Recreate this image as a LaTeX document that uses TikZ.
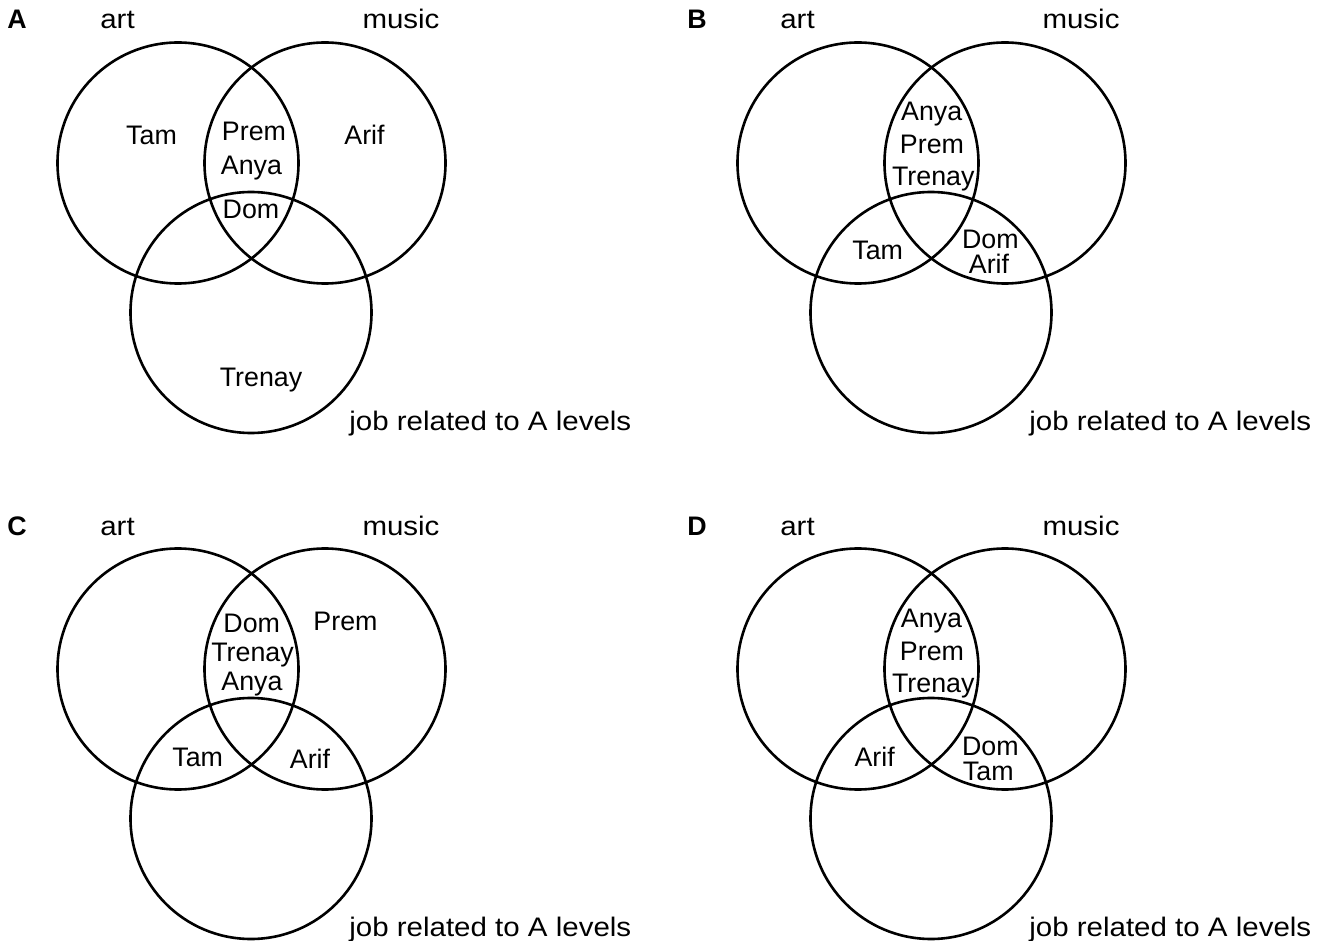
\documentclass[tikz,border=0pt]{standalone}
\usepackage{fontspec}
\setmainfont{Liberation Sans}
\usetikzlibrary{positioning}
\tikzset{
x=0.5pt,
y=-0.5pt,
every node/.style={font=\fontsize{13.4}{15}\selectfont},
set/.style={circle, draw, line width=1.3pt, minimum size=120.5pt, inner sep=0pt},
who/.style={anchor=base, inner sep=0pt},
head/.style={anchor=base, inner sep=0pt, font=\fontsize{13.4}{15}\selectfont\addfontfeature{FakeStretch=1.1}},
caption/.style={anchor=base west, inner sep=0pt, font=\fontsize{13.4}{15}\selectfont\addfontfeature{FakeStretch=1.1}},
letter/.style={anchor=base, inner sep=0pt, font=\fontsize{13.4}{15}\selectfont\bfseries},
}

\begin{document}
\begin{tikzpicture}
    \useasboundingbox (0,0) rectangle (1324,941);

    % A
    \node[letter] (letA) at (17,29) {A};
    \node[head] (artlabA) at (117.5,29) {art};
    \node[head] (muslabA) at (401,29) {music};
    \node[set] (artA) at (178,163) {};
    \node[set] (musicA) at (325,163) {};
    \node[set] (jobA) at (251,312.5) {};
    \node[caption] (joblabA) at (349,430) {job related to A levels};
    \node[who] (tamA) at (151.5,145) {Tam};
    \node[who] (premA) at (254,141) {Prem};
    \node[who] (anyaA) at (251.5,175) {Anya};
    \node[who] (domA) at (251,219) {Dom};
    \node[who] (arifA) at (364.5,145) {Arif};
    \node[who] (trenayA) at (261,386.7) {Trenay};

    % B
    \begin{scope}[shift={(680,0)}]
    \node[letter] (letB) at (17,29) {B};
    \node[head] (artlabB) at (117.5,29) {art};
    \node[head] (muslabB) at (401,29) {music};
    \node[set] (artB) at (178,163) {};
    \node[set] (musicB) at (325,163) {};
    \node[set] (jobB) at (251,312.5) {};
    \node[caption] (joblabB) at (349,430) {job related to A levels};
    \node[who] (anyaB) at (251.7,121) {Anya};
    \node[who] (premB) at (252,153.3) {Prem};
    \node[who] (trenayB) at (253.3,185.3) {Trenay};
    \node[who] (tamB) at (197.7,259.3) {Tam};
    \node[who] (domB) at (310.3,248.3) {Dom};
    \node[who] (arifB) at (309,273.3) {Arif};
    \end{scope}

    % C
    \begin{scope}[shift={(0,506)}]
    \node[letter] (letC) at (17,29) {C};
    \node[head] (artlabC) at (117.5,29) {art};
    \node[head] (muslabC) at (401,29) {music};
    \node[set] (artC) at (178,163) {};
    \node[set] (musicC) at (325,163) {};
    \node[set] (jobC) at (251,312.5) {};
    \node[caption] (joblabC) at (349,430) {job related to A levels};
    \node[who] (domC) at (251.7,126.7) {Dom};
    \node[who] (trenayC) at (252.5,155.7) {Trenay};
    \node[who] (anyaC) at (252,184) {Anya};
    \node[who] (premC) at (345.5,124.7) {Prem};
    \node[who] (tamC) at (197.7,260) {Tam};
    \node[who] (arifC) at (310,262) {Arif};
    \end{scope}

    % D
    \begin{scope}[shift={(680,506)}]
    \node[letter] (letD) at (17,29) {D};
    \node[head] (artlabD) at (117.5,29) {art};
    \node[head] (muslabD) at (401,29) {music};
    \node[set] (artD) at (178,163) {};
    \node[set] (musicD) at (325,163) {};
    \node[set] (jobD) at (251,312.5) {};
    \node[caption] (joblabD) at (349,430) {job related to A levels};
    \node[who] (anyaD) at (251.5,121.7) {Anya};
    \node[who] (premD) at (252,154.7) {Prem};
    \node[who] (trenayD) at (253.3,186.7) {Trenay};
    \node[who] (arifD) at (194.7,260) {Arif};
    \node[who] (domD) at (310.3,249) {Dom};
    \node[who] (tamD) at (308.3,274.7) {Tam};
    \end{scope}

\end{tikzpicture}
\end{document}
